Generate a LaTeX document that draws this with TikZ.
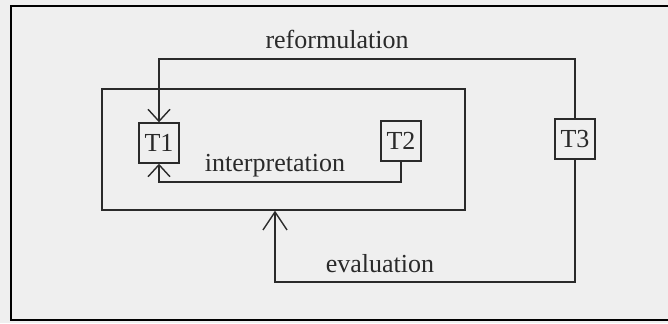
\documentclass[tikz,border=0pt]{standalone}
\usepackage{fontspec}
\setmainfont{Liberation Serif}
\usetikzlibrary{arrows.meta}

\definecolor{paper}{HTML}{EFEFEF}
\definecolor{ink}{HTML}{2A2A2A}

\tikzset{
  tbox/.style={draw=ink, line width=0.7pt, minimum width=20pt, minimum height=20pt, inner sep=0pt, text=ink},
  flow/.style={draw=ink, line width=0.7pt, -{Straight Barb[length=6pt,width=11pt,line width=0.7pt]}},
  lbl/.style={text=ink, inner sep=1pt}
}

\begin{document}
\begin{tikzpicture}[x=0.5pt,y=-0.5pt]
        \fill[paper] (0,0) rectangle (668,323);
        \useasboundingbox (0,0) rectangle (668,323);
        \draw[line width=1.3pt] (690,6) -- (11,6) -- (11,320) -- (690,320);

        \fontsize{13}{15}\selectfont
        % the three turns
        \node[tbox] (T1) at (159,143) {T1};
        \node[tbox] (T2) at (401,141) {T2};
        \node[tbox] (T3) at (575,139) {T3};

        % frame round T1 and T2
        \node[draw=ink, line width=0.7pt, minimum width=181.5pt, minimum height=60.5pt, inner sep=0pt] (inner) at (283.5,149.5) {};

        \coordinate (reftop) at (159,59);
        \coordinate (interbot) at (159,182);
        \coordinate (evalbot) at (275,282);

        \draw[flow] (T3.north) |- (reftop) -- (T1.north);
        \draw[flow] (T2.south) |- (interbot) -- (T1.south);
        \draw[flow, -{Straight Barb[length=9pt,width=12pt,line width=0.7pt]}] (T3.south) |- (evalbot) -- (evalbot |- inner.south);

        \node[lbl] (reform) at (337,39) {reformulation};
        \node[lbl] (interp) at (275,166) {interpretation};
        \node[lbl] (evalu) at (380,264) {evaluation};
\end{tikzpicture}
\end{document}
